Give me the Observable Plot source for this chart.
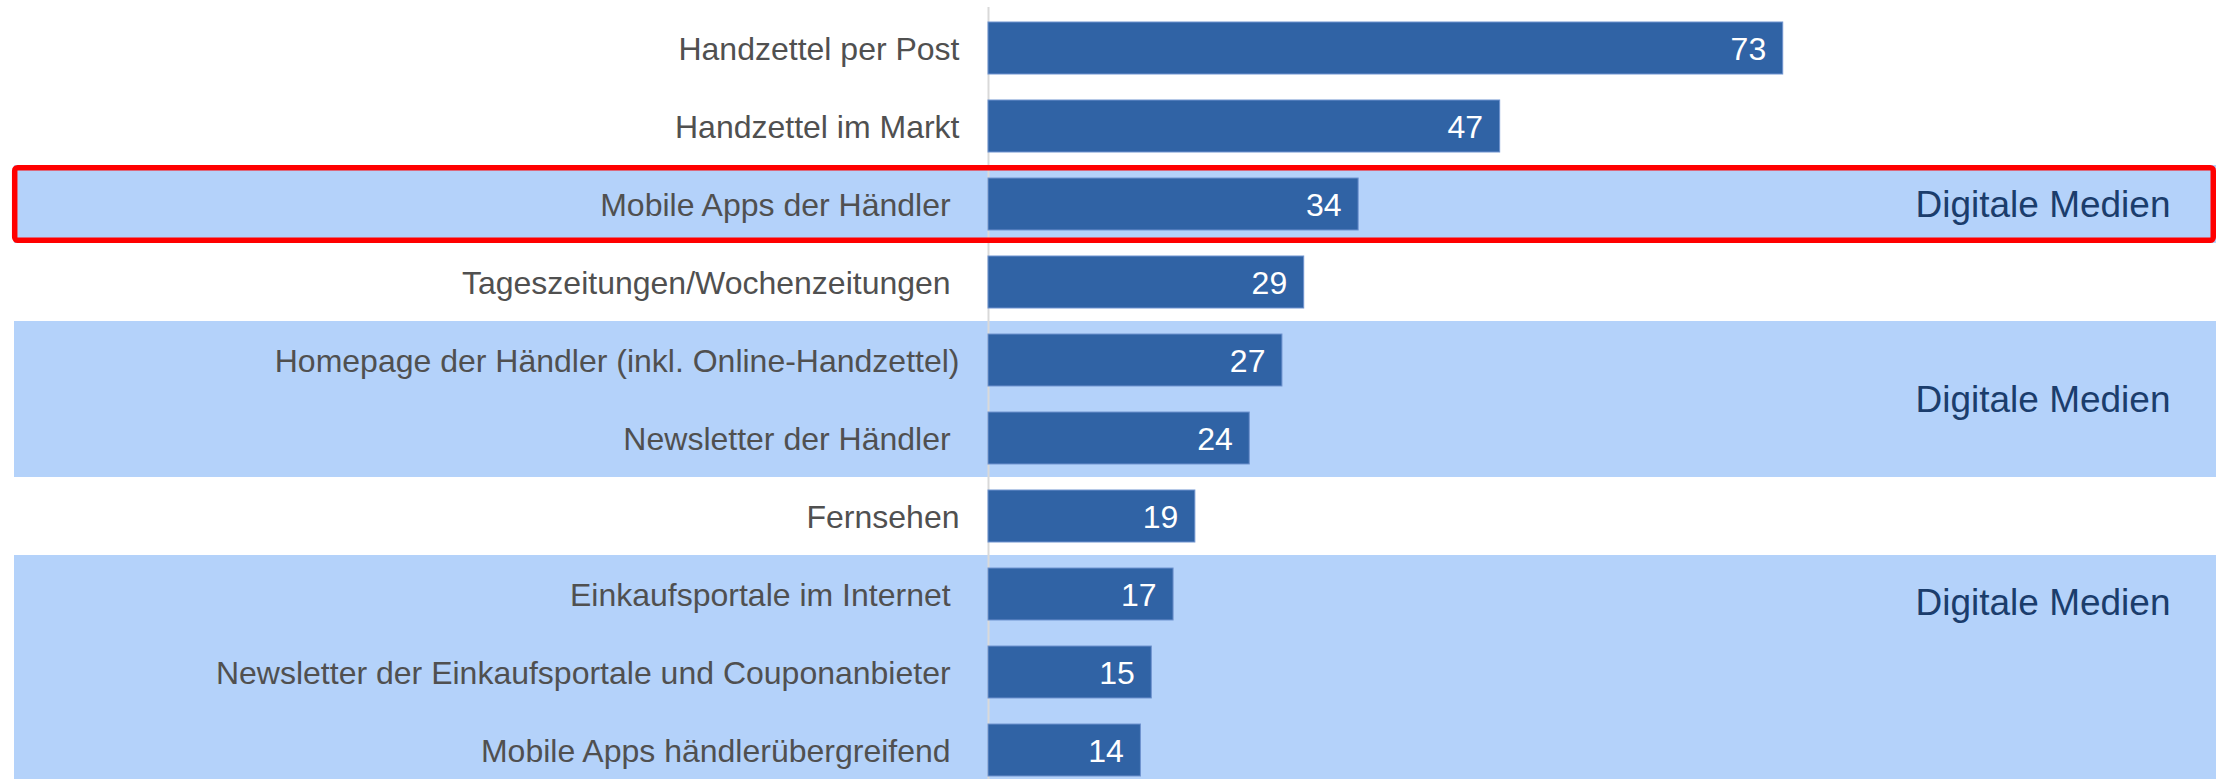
<!DOCTYPE html>
<html>
<head>
<meta charset="utf-8">
<script src="https://cdn.jsdelivr.net/npm/d3@7"></script>
<script src="https://cdn.jsdelivr.net/npm/@observablehq/plot@0.6"></script>
<style>
  html, body { margin: 0; padding: 0; background: #ffffff; }
  #chart svg { display: block; overflow: hidden; }
</style>
</head>
<body>
<div id="chart"></div>
<script>
// ---- data ----
const categories = [
  "Handzettel per Post",
  "Handzettel im Markt",
  "Mobile Apps der Händler ",
  "Tageszeitungen/Wochenzeitungen ",
  "Homepage der Händler (inkl. Online-Handzettel)",
  "Newsletter der Händler ",
  "Fernsehen",
  "Einkaufsportale im Internet ",
  "Newsletter der Einkaufsportale und Couponanbieter ",
  "Mobile Apps händlerübergreifend "
];
const values = [73, 47, 34, 29, 27, 24, 19, 17, 15, 14];
const digitalCategories = [
  "Mobile Apps der Händler ",
  "Homepage der Händler (inkl. Online-Handzettel)",
  "Newsletter der Händler ",
  "Einkaufsportale im Internet ",
  "Newsletter der Einkaufsportale und Couponanbieter ",
  "Mobile Apps händlerübergreifend "
];
const highlighted = ["Mobile Apps der Händler "];
const groupLabel = "Digitale Medien";

const data = categories.map((c, i) => ({label: c, value: values[i]}));

// ---- layout ----
const W = 2224, H = 779;
const mLeft = 988, mRight = 8, mTop = 7;
const xMax = 112.8;
const padIn = 0.333, padOut = padIn / 2;
const yRange = [mTop, 791.4];
const step = (yRange[1] - yRange[0]) / (categories.length - padIn + 2 * padOut);
const gap = step * padIn / 2;
const bandLeft = 14;

const chart = Plot.plot({
  width: W,
  height: H,
  marginLeft: mLeft,
  marginRight: mRight,
  marginTop: mTop,
  marginBottom: 0,
  style: {fontFamily: "'Liberation Sans', Arial, sans-serif", background: "#ffffff"},
  x: {domain: [0, xMax], axis: null},
  y: {domain: categories, range: yRange, paddingInner: padIn, paddingOuter: padOut, axis: null, label: null},
  marks: [
    // light-blue background bands for digital media
    Plot.barX(digitalCategories, {
      x1: 0, x2: xMax, y: d => d,
      fill: "#b4d2fa",
      insetTop: -gap, insetBottom: -gap,
      insetLeft: -(mLeft - bandLeft), insetRight: 0,
      shapeRendering: "crispEdges"
    }),
    // axis line
    Plot.ruleX([0], {stroke: "#d9d9d9", strokeWidth: 2}),
    // bars
    Plot.barX(data, {
      x: "value", y: "label",
      fill: "#3063a5", stroke: "#6f93cf", strokeWidth: 1
    }),
    // value labels
    Plot.text(data, {
      x: "value", y: "label",
      text: d => String(d.value),
      textAnchor: "end", dx: -17, dy: 1,
      fill: "#ffffff", fontSize: 32
    }),
    // category labels
    Plot.axisY({
      tickSize: 0, tickPadding: 29, fontSize: 32,
      fill: "#505050", dy: 1, label: null
    }),
    // red highlight box
    Plot.barX(highlighted, {
      x1: 0, x2: xMax, y: d => d,
      fill: "none", stroke: "#ff0000", strokeWidth: 5.5, rx: 3,
      insetTop: -gap + 2.75, insetBottom: -gap + 2.75,
      insetLeft: -(mLeft - bandLeft - 0.7), insetRight: 2.75
    }),
    // group labels
    Plot.text([categories[2]], {
      x: xMax, y: d => d, text: () => groupLabel,
      textAnchor: "end", dx: -46, dy: 1,
      fill: "#1b3d6c", fontSize: 37
    }),
    Plot.text([categories[4]], {
      x: xMax, y: d => d, text: () => groupLabel,
      textAnchor: "end", dx: -46, dy: step / 2,
      fill: "#1b3d6c", fontSize: 37
    }),
    Plot.text([categories[7]], {
      x: xMax, y: d => d, text: () => groupLabel,
      textAnchor: "end", dx: -46, dy: 9,
      fill: "#1b3d6c", fontSize: 37
    })
  ]
});

document.getElementById("chart").appendChild(chart);
</script>
</body>
</html>
